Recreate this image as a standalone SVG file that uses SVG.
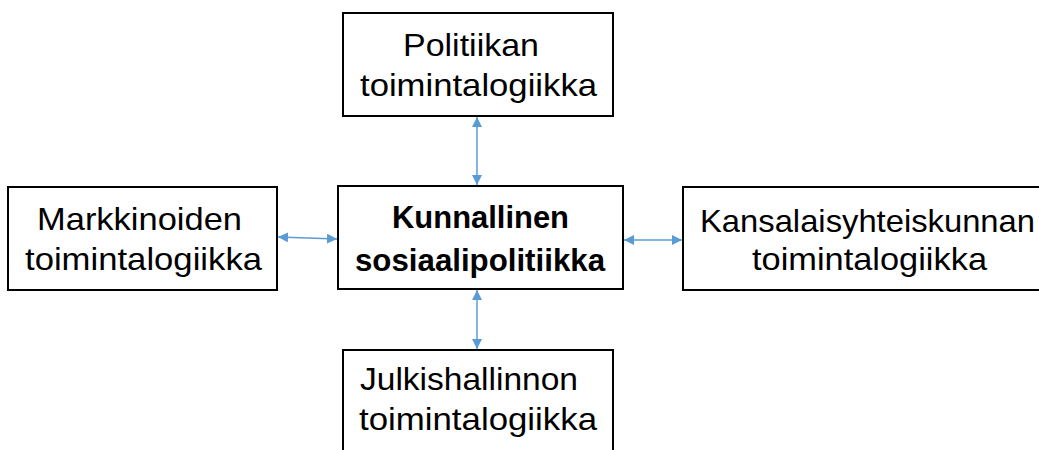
<svg xmlns="http://www.w3.org/2000/svg" width="1039" height="450" viewBox="0 0 1039 450">
<style>
.box{fill:#fff;stroke:#000;stroke-width:2}
.t{font-family:"Liberation Sans",Arial,sans-serif;font-size:32px;fill:#000}
.b{font-weight:bold}
.c{stroke:#5B9BD5;stroke-width:1.5;fill:none}
</style>
<defs>
<marker id="ah" viewBox="0 0 10 10" refX="10" refY="5" markerWidth="10" markerHeight="10" markerUnits="userSpaceOnUse" orient="auto-start-reverse">
<path d="M0,0 L10,5 L0,10 z" fill="#5B9BD5"/>
</marker>
</defs>
<g id="connectors">
<line class="c" x1="477" y1="117" x2="477" y2="185" marker-start="url(#ah)" marker-end="url(#ah)"/>
<line class="c" x1="477" y1="290" x2="477" y2="349" marker-start="url(#ah)" marker-end="url(#ah)"/>
<line class="c" x1="278" y1="237" x2="337" y2="239" marker-start="url(#ah)" marker-end="url(#ah)"/>
<line class="c" x1="624" y1="240" x2="682" y2="240" marker-start="url(#ah)" marker-end="url(#ah)"/>
</g>
<g id="node-top">
<rect class="box" x="343" y="13" width="270" height="103"/>
<text class="t" x="403" y="56" textLength="136" lengthAdjust="spacingAndGlyphs">Politiikan</text>
<text class="t" x="360" y="96" textLength="237" lengthAdjust="spacingAndGlyphs">toimintalogiikka</text>
</g>
<g id="node-center">
<rect class="box" x="338" y="186" width="285" height="103"/>
<text class="t b" x="392" y="228" textLength="177" lengthAdjust="spacingAndGlyphs">Kunnallinen</text>
<text class="t b" x="355" y="271" textLength="250" lengthAdjust="spacingAndGlyphs">sosiaalipolitiikka</text>
</g>
<g id="node-left">
<rect class="box" x="8" y="187" width="269" height="103"/>
<text class="t" x="37" y="230" textLength="205" lengthAdjust="spacingAndGlyphs">Markkinoiden</text>
<text class="t" x="25" y="270" textLength="237" lengthAdjust="spacingAndGlyphs">toimintalogiikka</text>
</g>
<g id="node-right">
<rect class="box" x="683" y="187" width="360" height="103"/>
<text class="t" x="700" y="232" textLength="335" lengthAdjust="spacingAndGlyphs">Kansalaisyhteiskunnan</text>
<text class="t" x="752" y="270" textLength="235" lengthAdjust="spacingAndGlyphs">toimintalogiikka</text>
</g>
<g id="node-bottom">
<rect class="box" x="343" y="350" width="270" height="110"/>
<text class="t" x="360" y="390" textLength="218" lengthAdjust="spacingAndGlyphs">Julkishallinnon</text>
<text class="t" x="359" y="430" textLength="238" lengthAdjust="spacingAndGlyphs">toimintalogiikka</text>
</g>
</svg>
